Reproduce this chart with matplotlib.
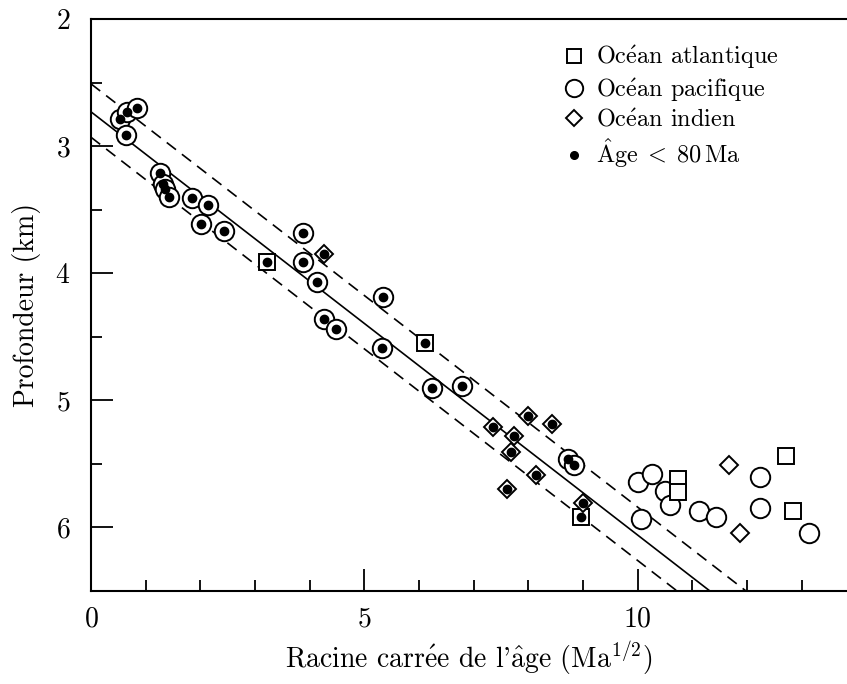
import matplotlib
matplotlib.use("Agg")
import numpy as np
import matplotlib.pyplot as plt
from matplotlib.lines import Line2D
from matplotlib.ticker import MultipleLocator

plt.rcParams['font.family'] = 'serif'
plt.rcParams['font.serif'] = ['cmr10']
plt.rcParams['mathtext.fontset'] = 'cm'
plt.rcParams['axes.formatter.use_mathtext'] = True

# --- données (racine de l'âge, profondeur en km) ---
# points avec âge < 80 Ma (marqueur + point noir)
pac_young_x = [0.53, 0.66, 0.84, 0.64, 1.26, 1.31, 1.36, 1.42, 1.84, 2.14, 2.01, 2.44,
               3.88, 3.88, 4.14, 5.35, 4.26, 4.49, 5.32, 6.24, 6.78, 8.73, 8.83]
pac_young_y = [2.79, 2.73, 2.70, 2.91, 3.21, 3.30, 3.34, 3.40, 3.41, 3.46, 3.61, 3.67,
               3.68, 3.91, 4.07, 4.19, 4.36, 4.44, 4.59, 4.90, 4.89, 5.46, 5.51]
atl_young_x = [3.22, 6.11, 8.96]
atl_young_y = [3.91, 4.55, 5.92]
ind_young_x = [4.26, 8.00, 8.44, 7.35, 7.74, 7.68, 8.14, 7.61, 9.00]
ind_young_y = [3.85, 5.12, 5.19, 5.21, 5.28, 5.41, 5.59, 5.70, 5.81]

# points plus vieux (marqueur vide)
pac_old_x = [10.01, 10.27, 10.50, 10.60, 10.06, 11.12, 11.44, 12.23, 12.23, 13.14]
pac_old_y = [5.64, 5.58, 5.71, 5.82, 5.93, 5.87, 5.92, 5.60, 5.85, 6.04]
atl_old_x = [10.74, 10.74, 12.72, 12.84]
atl_old_y = [5.62, 5.72, 5.44, 5.87]
ind_old_x = [11.67, 11.88]
ind_old_y = [5.51, 6.04]

# droite d'ajustement et enveloppe
fit_slope = 0.333
fit_icpt = 2.73
band_icpts = [2.51, 2.93]
line_x = np.array([0.0, 14.0])

fig = plt.figure(figsize=(8.47, 6.84), dpi=100)
ax = fig.add_axes([0.1074, 0.136, 0.8926, 0.8362])

ax.plot(line_x, fit_icpt + fit_slope*line_x, color='black', lw=1.2, zorder=1)
for c in band_icpts:
    ax.plot(line_x, c + fit_slope*line_x, color='black', lw=1.2,
            linestyle=(0, (7, 4.5)), zorder=1)

mk = dict(linestyle='none', mfc='white', mec='black', mew=1.4, zorder=3)
ax.plot(pac_young_x + pac_old_x, pac_young_y + pac_old_y, marker='o', ms=14, **mk)
ax.plot(atl_young_x + atl_old_x, atl_young_y + atl_old_y, marker='s', ms=11.5, **mk)
ax.plot(ind_young_x + ind_old_x, ind_young_y + ind_old_y, marker='D', ms=8.8, **mk)

ax.plot(pac_young_x + atl_young_x + ind_young_x, pac_young_y + atl_young_y + ind_young_y,
        linestyle='none', marker='o', ms=6, color='black', zorder=4)

ax.set_xlim(0, 13.83)
ax.set_ylim(6.5, 2)
ax.xaxis.set_major_locator(MultipleLocator(5))
ax.xaxis.set_minor_locator(MultipleLocator(1))
ax.yaxis.set_major_locator(MultipleLocator(1))
ax.yaxis.set_minor_locator(MultipleLocator(0.5))
ax.tick_params(which='both', direction='in', width=1.3, labelsize=20)
ax.tick_params(which='major', length=15.6)
ax.tick_params(which='minor', length=8)
ax.tick_params(axis='x', which='major', pad=11)
ax.tick_params(axis='y', which='major', pad=15)
ax.spines['right'].set_visible(False)
for s in ['left', 'bottom', 'top']:
    ax.spines[s].set_linewidth(1.5)

ax.set_xlabel(r"Racine carr$\mathrm{\acute{e}}$e de l'$\mathrm{\hat{a}}$ge (Ma$^{1/2}$)",
              fontsize=20, labelpad=5)
ax.set_ylabel("Profondeur (km)", fontsize=20, labelpad=10)

handles = [
    Line2D([], [], linestyle='none', marker='s', ms=10.5, mfc='white', mec='black', mew=1.4),
    Line2D([], [], linestyle='none', marker='o', ms=12.5, mfc='white', mec='black', mew=1.4),
    Line2D([], [], linestyle='none', marker='D', ms=8.2, mfc='white', mec='black', mew=1.4),
    Line2D([], [], linestyle='none', marker='o', ms=5.5, color='black'),
]
labels = [r"Oc$\mathrm{\acute{e}}$an atlantique", r"Oc$\mathrm{\acute{e}}$an pacifique",
          r"Oc$\mathrm{\acute{e}}$an indien", r"$\mathrm{\hat{A}ge}\;<\;80\,\mathrm{Ma}$"]
ax.legend(handles, labels, loc='upper left', bbox_to_anchor=(0.61, 0.974),
          frameon=False, fontsize=17.5, handlelength=1.0, handletextpad=0.41,
          labelspacing=0.2, borderaxespad=0)

fig.savefig("out.png", dpi=100)
